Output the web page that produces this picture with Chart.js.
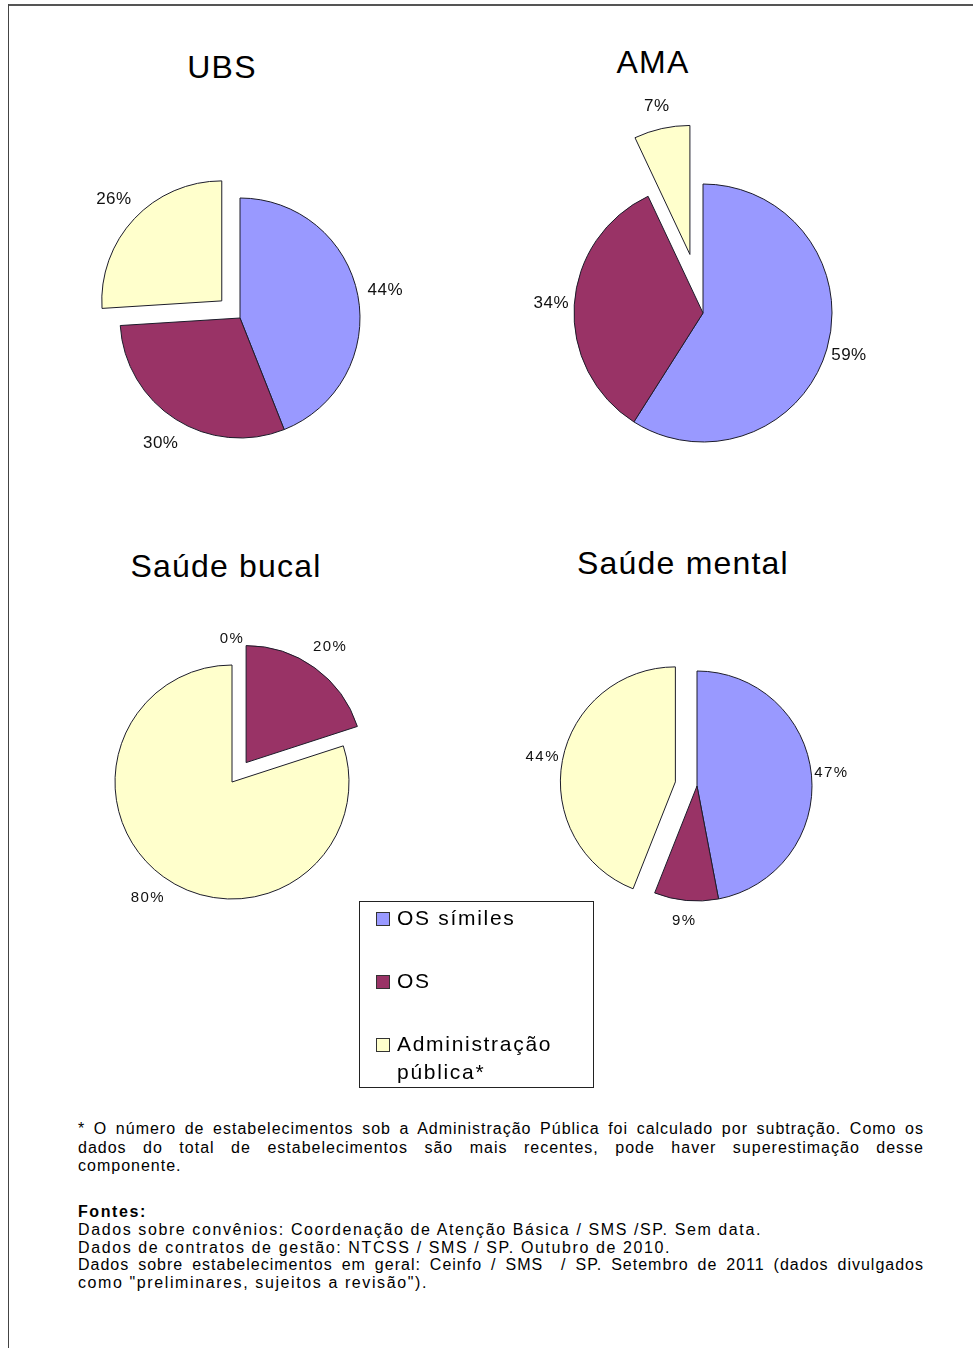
<!DOCTYPE html>
<html lang="pt-BR">
<head>
<meta charset="utf-8">
<title>Estabelecimentos por tipo de gestão</title>
<script src="https://cdn.jsdelivr.net/npm/chart.js@4.4.1/dist/chart.umd.min.js"></script>
<style>
    html, body { margin: 0; padding: 0; background: #fff; }
    #page { position: relative; width: 973px; height: 1348px; overflow: hidden; font-family: "Liberation Sans", Arial, sans-serif; color: #000; }
    .frame-top { position: absolute; left: 8px; top: 4px; width: 965px; height: 2px; background: #555; }
    .frame-left { position: absolute; left: 8px; top: 4px; width: 1px; height: 1344px; background: #444; }
    canvas { position: absolute; }
    .title { position: absolute; width: 320px; text-align: center; font-size: 32px; line-height: 32px; letter-spacing: 1.2px; white-space: nowrap; }
    #legend { position: absolute; left: 359px; top: 901px; width: 233px; height: 185px; border: 1px solid #222; background: transparent; }
    .leg-item { position: absolute; left: 16px; font-size: 21px; line-height: 28px; letter-spacing: 1.7px; }
    .leg-box { position: absolute; left: 0; top: 8px; width: 12px; height: 12px; border: 1px solid #333; }
    .leg-text { position: absolute; left: 21px; top: 0; white-space: nowrap; }
    .notes { position: absolute; left: 78px; width: 846px; font-size: 16px; }
    .notes div { white-space: nowrap; }
    .notes .just { text-align: justify; text-align-last: justify; }
</style>
</head>
<body>
<div id="page">
    <div class="frame-top"></div>
    <div class="frame-left"></div>

    <div class="title" style="left:62px; top:51px;">UBS</div>
    <div class="title" style="left:493px; top:46px;">AMA</div>
    <div class="title" style="left:66px; top:550px;">Saúde bucal</div>
    <div class="title" style="left:523px; top:547px;">Saúde mental</div>

    <canvas id="pieUbs" width="460" height="460" style="left:10px; top:88px;"></canvas>
    <canvas id="pieAma" width="460" height="460" style="left:473px; top:83px;"></canvas>
    <canvas id="pieBucal" width="460" height="460" style="left:2px; top:552px;"></canvas>
    <canvas id="pieMental" width="460" height="460" style="left:467px; top:556px;"></canvas>

    <div id="legend"></div>

    <div class="notes" style="top:1120px; line-height:18.5px; letter-spacing:1px;">
        <div class="just">* O número de estabelecimentos sob a Administração Pública foi calculado por subtração. Como os</div>
        <div class="just">dados do total de estabelecimentos são mais recentes, pode haver superestimação desse</div>
        <div>componente.</div>
    </div>
    <div class="notes" style="top:1203px; line-height:17.8px; letter-spacing:1.6px;">
        <div style="font-weight:bold;">Fontes:</div>
        <div>Dados sobre convênios: Coordenação de Atenção Básica / SMS /SP. Sem data.</div>
        <div>Dados de contratos de gestão: NTCSS / SMS / SP. Outubro de 2010.</div>
        <div class="just" style="letter-spacing:1px;">Dados sobre estabelecimentos em geral: Ceinfo / SMS &nbsp;/ SP. Setembro de 2011 (dados divulgados</div>
        <div>como "preliminares, sujeitos a revisão").</div>
    </div>
</div>

<script>
// share of establishments (%) by type of management
const categories = ["OS símiles", "OS", "Administração pública*"];
const ubsValues = [44, 30, 26];
const amaValues = [59, 34, 7];
const bucalValues = [0, 20, 80];
const mentalValues = [47, 9, 44];

const sliceColors = ["#9999FF", "#993366", "#FFFFCC"];

// pulls slices out along their mid angle, without growing them like arc offset does
const explodeSlices = {
    id: 'explodeSlices',
    afterDatasetsUpdate(chart, args, opts) {
        const area = chart.chartArea;
        const cx = (area.left + area.right) / 2;
        const cy = (area.top + area.bottom) / 2;
        chart.getDatasetMeta(0).data.forEach((arc, i) => {
            const shift = (opts.shifts && opts.shifts[i]) || 0;
            const mid = (arc.startAngle + arc.endAngle) / 2;
            arc.x = cx + Math.cos(mid) * shift;
            arc.y = cy + Math.sin(mid) * shift;
        });
    }
};

// "44%" style labels just outside each slice
const pctLabels = {
    id: 'pctLabels',
    afterDatasetsDraw(chart, args, opts) {
        const ctx = chart.ctx;
        const values = chart.data.datasets[0].data;
        ctx.save();
        ctx.font = opts.font;
        if ('letterSpacing' in ctx) ctx.letterSpacing = opts.spacing || '0px';
        ctx.fillStyle = '#111';
        ctx.textAlign = 'center';
        ctx.textBaseline = 'middle';
        chart.getDatasetMeta(0).data.forEach((arc, i) => {
            const mid = (arc.startAngle + arc.endAngle) / 2;
            const dist = arc.outerRadius + opts.gap;
            ctx.fillText(values[i] + '%', arc.x + Math.cos(mid) * dist, arc.y + Math.sin(mid) * dist);
        });
        ctx.restore();
    }
};

function plotPie(canvasId, values, radius, shifts, labelGap, labelFont, labelSpacing) {
    return new Chart(document.getElementById(canvasId).getContext("2d"), {
        type: 'pie',
        data: {
            labels: categories,
            datasets: [{
                data: values,
                backgroundColor: sliceColors,
                borderColor: "#1c1c2a",
                borderWidth: 1,
                borderJoinStyle: 'miter'
            }]
        },
        options: {
            responsive: false,
            animation: false,
            events: [],
            radius: radius,
            layout: { padding: 0 },
            plugins: {
                legend: { display: false },
                tooltip: { enabled: false },
                explodeSlices: { shifts: shifts },
                pctLabels: { gap: labelGap, font: labelFont, spacing: labelSpacing }
            }
        },
        plugins: [explodeSlices, pctLabels]
    });
}

function buildLegend() {
    const legend = document.getElementById("legend");
    const rows = [2, 65, 128];
    categories.forEach((name, i) => {
        const item = document.createElement("div");
        item.className = "leg-item";
        item.style.top = rows[i] + "px";
        const box = document.createElement("div");
        box.className = "leg-box";
        box.style.background = sliceColors[i];
        const text = document.createElement("div");
        text.className = "leg-text";
        text.innerHTML = name === "Administração pública*" ? "Administração<br>pública*" : name;
        item.appendChild(box);
        item.appendChild(text);
        legend.appendChild(item);
    });
}

plotPie("pieUbs", ubsValues, 120, [0, 0, 25], 28, '17px "Liberation Sans", Arial', '0.5px');
plotPie("pieAma", amaValues, 129, [0, 0, 60], 23, '17px "Liberation Sans", Arial', '0.5px');
plotPie("pieBucal", bucalValues, 117, [0, 24, 0], 26, '15px "Liberation Sans", Arial', '1.5px');
plotPie("pieMental", mentalValues, 115, [0, 0, 22], 20, '15px "Liberation Sans", Arial', '1.5px');
buildLegend();
</script>
</body>
</html>
